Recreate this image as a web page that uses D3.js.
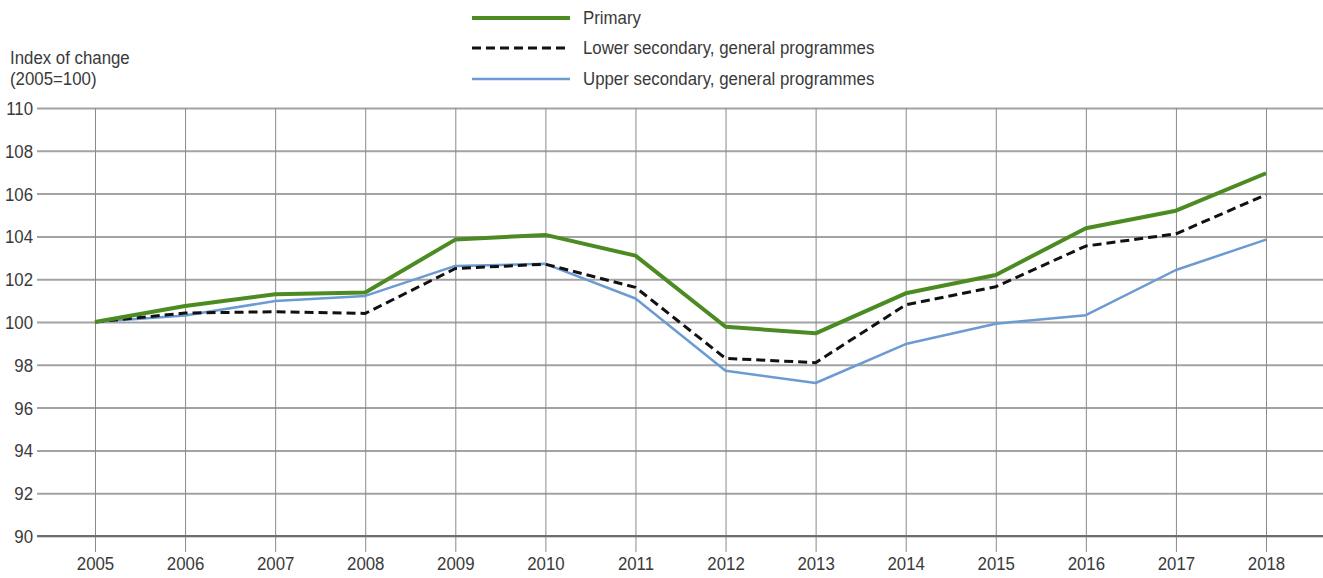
<!DOCTYPE html>
<html><head><meta charset="utf-8">
<script src="https://cdn.jsdelivr.net/npm/d3@7"></script>
<style>
body{margin:0;background:#fff;}
svg text{font-family:"Liberation Sans",Arial,sans-serif;fill:#3a3a3a;}
</style></head>
<body><svg id="c" width="1323" height="578"></svg>
<script>
const years = [2005,2006,2007,2008,2009,2010,2011,2012,2013,2014,2015,2016,2017,2018];
const primary = [100,100.75,101.3,101.38,103.85,104.07,103.1,99.78,99.47,101.34,102.2,104.38,105.2,106.95];
const lowerSec = [100,100.42,100.48,100.4,102.5,102.7,101.62,98.3,98.1,100.8,101.65,103.55,104.12,105.95];
const upperSec = [100,100.3,100.98,101.22,102.62,102.72,101.1,97.72,97.15,98.97,99.92,100.32,102.43,103.85];
const yTicks = [90,92,94,96,98,100,102,104,106,108,110];
const seriesNames = ["Primary","Lower secondary, general programmes","Upper secondary, general programmes"];

(function(){
const svg = d3.select("#c");
const pLeft = 37, pRight = 1323, pTop = 108, pBottom = 536;
const fs = 18.5, sx = 0.91;
const x = d3.scaleLinear().domain([2005,2018]).range([95,1266]);
const y = d3.scaleLinear().domain([90,110]).range([pBottom, pTop]);

const yAxis = d3.axisLeft(y).tickValues(yTicks).tickSize(-(pRight-pLeft)).tickPadding(4).tickFormat(d3.format("d"));
const gy = svg.append("g").attr("transform",`translate(${pLeft},0)`).call(yAxis);
gy.select(".domain").remove();
gy.selectAll(".tick line").attr("stroke","#a3a3a3").attr("stroke-width",2);
gy.selectAll(".tick text").attr("font-size",fs).attr("fill","#3a3a3a").attr("dy","0.35em")
  .attr("x",-4/sx).attr("transform",`scale(${sx},1)`);

const xAxis = d3.axisBottom(x).tickValues(years).tickSize(-(pBottom-pTop)).tickFormat(d3.format("d"));
const gx = svg.append("g").attr("transform",`translate(0,${pBottom})`).call(xAxis);
gx.select(".domain").remove();
gx.selectAll(".tick line").attr("stroke","#8a8a8a").attr("stroke-width",1).attr("y1",16);
gx.selectAll(".tick text").attr("font-size",fs).attr("fill","#3a3a3a").attr("y",21).attr("dy","0.71em")
  .attr("transform",`scale(${sx},1)`);

svg.append("line").attr("x1",pLeft).attr("x2",pRight).attr("y1",y(90)).attr("y2",y(90))
  .attr("stroke","#6e6e6e").attr("stroke-width",2);

svg.append("text").attr("transform",`translate(10,64) scale(${sx},1)`).attr("font-size",fs).text("Index of change");
svg.append("text").attr("transform",`translate(10,85) scale(${sx},1)`).attr("font-size",fs).text("(2005=100)");

const line = d3.line().x((d,i)=>x(years[i])).y(d=>y(d));
const styles = [
  {data:upperSec, color:"#6b9bd2", w:2.5, dash:null},
  {data:lowerSec, color:"#111", w:3, dash:"9,5"},
  {data:primary, color:"#4c8b22", w:4, dash:null}
];
styles.forEach(s=>{
  svg.append("path").datum(s.data).attr("d",line).attr("fill","none")
    .attr("stroke",s.color).attr("stroke-width",s.w).attr("stroke-linejoin","round")
    .attr("stroke-dasharray",s.dash);
});

const legendStyles = [styles[2],styles[1],styles[0]];
const ly = [18,48,79];
seriesNames.forEach((n,i)=>{
  const s = legendStyles[i];
  svg.append("line").attr("x1",472).attr("x2",570).attr("y1",ly[i]).attr("y2",ly[i])
    .attr("stroke",s.color).attr("stroke-width",s.w).attr("stroke-dasharray",s.dash);
  svg.append("text").attr("transform",`translate(583,${ly[i]}) scale(${sx},1)`)
    .attr("dy","0.35em").attr("font-size",fs).text(n);
});
})();
</script></body></html>
